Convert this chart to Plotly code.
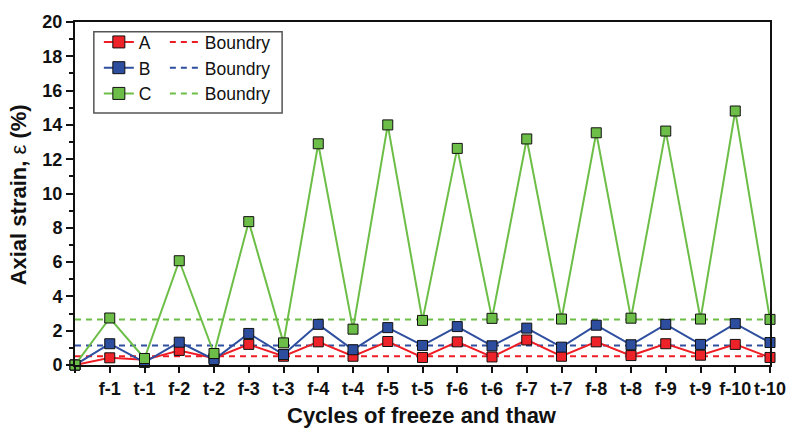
import plotly.graph_objects as go

# Freeze–thaw cycle stages (index 0 is the initial state)
cycles = ["0", "f-1", "t-1", "f-2", "t-2", "f-3", "t-3", "f-4", "t-4", "f-5", "t-5",
          "f-6", "t-6", "f-7", "t-7", "f-8", "t-8", "f-9", "t-9", "f-10", "t-10"]
tick_labels = [""] + cycles[1:]

# Axial strain (%) for the three specimens
strain_a = [0.0, 0.42, 0.30, 0.85, 0.40, 1.20, 0.51, 1.35, 0.51, 1.37, 0.44,
            1.35, 0.47, 1.46, 0.51, 1.35, 0.55, 1.24, 0.57, 1.20, 0.44]
strain_b = [0.0, 1.24, 0.15, 1.33, 0.32, 1.84, 0.61, 2.37, 0.89, 2.18, 1.14,
            2.24, 1.12, 2.15, 1.04, 2.32, 1.18, 2.37, 1.20, 2.41, 1.31]
strain_c = [0.0, 2.74, 0.38, 6.08, 0.67, 8.36, 1.29, 12.90, 2.09, 14.00, 2.60,
            12.63, 2.72, 13.18, 2.68, 13.54, 2.73, 13.64, 2.68, 14.81, 2.66]

# Boundary strain for each specimen
boundary_a = 0.51
boundary_b = 1.14
boundary_c = 2.66

names = ["A", "B", "C"]
series = [strain_a, strain_b, strain_c]
boundaries = [boundary_a, boundary_b, boundary_c]
line_colors = ["#EE1D25", "#2E4F9F", "#6CBE47"]
fill_colors = ["#EE2229", "#2D4E9E", "#6DBE48"]

FONT = "Liberation Sans, Arial, sans-serif"

fig = go.Figure()

# dashed boundary lines (behind the data)
for name, b, col in zip(names, boundaries, line_colors):
    fig.add_trace(go.Scatter(
        x=[cycles[0], cycles[-1]], y=[b, b], mode="lines",
        line=dict(color=col, width=2, dash="6px,5px"),
        showlegend=False, hoverinfo="skip", cliponaxis=False))

# strain series
for name, ys, col, fc in zip(names, series, line_colors, fill_colors):
    fig.add_trace(go.Scatter(
        x=cycles, y=ys, mode="lines+markers", name=name,
        line=dict(color=col, width=2),
        marker=dict(symbol="square", size=10, color=fc,
                    line=dict(color="#111111", width=1)),
        showlegend=False, cliponaxis=False))

# legend entries: series on the left column, boundaries on the right column
for name, col, fc in zip(names, line_colors, fill_colors):
    fig.add_trace(go.Scatter(
        x=[None], y=[None], mode="lines+markers", name=name,
        line=dict(color=col, width=2),
        marker=dict(symbol="square", size=12, color=fc,
                    line=dict(color="#111111", width=1)),
        legend="legend"))
for name, col in zip(names, line_colors):
    fig.add_trace(go.Scatter(
        x=[None], y=[None], mode="lines", name="Boundry",
        line=dict(color=col, width=2, dash="6px,5px"),
        legend="legend2"))

legend_common = dict(
    bgcolor="rgba(0,0,0,0)", borderwidth=0,
    font=dict(family=FONT, size=17.5, color="#111111"),
    yanchor="top", xanchor="left", itemwidth=30)

fig.update_layout(
    width=798, height=433,
    margin=dict(l=75, r=22, t=14, b=68),
    paper_bgcolor="white", plot_bgcolor="white",
    legend=dict(x=0.0343, y=0.994, **legend_common),
    legend2=dict(x=0.1293, y=0.994, **legend_common),
    xaxis=dict(
        type="category", categoryorder="array", categoryarray=cycles,
        range=[0, 20],
        tickmode="array", tickvals=cycles, ticktext=tick_labels,
        showgrid=False, zeroline=False,
        showline=True, linecolor="#111111", linewidth=2, mirror=True,
        ticks="outside", ticklen=6, tickwidth=2, tickcolor="#111111",
        tickfont=dict(family=FONT, size=18, color="#111111", weight="bold"),
    ),
    yaxis=dict(
        range=[0, 20], tickmode="linear", tick0=0, dtick=2,
        showgrid=False, zeroline=False,
        showline=True, linecolor="#111111", linewidth=2, mirror=True,
        ticks="outside", ticklen=7, tickwidth=2, tickcolor="#111111",
        minor=dict(dtick=1, ticks="outside", ticklen=4, tickwidth=2,
                   tickcolor="#111111", showgrid=False),
        tickfont=dict(family=FONT, size=18, color="#111111", weight="bold"),
    ),
    shapes=[dict(type="rect", xref="paper", yref="paper",
                 x0=0.0271, x1=0.298, y0=0.735, y1=0.9715,
                 line=dict(color="#555555", width=1.5),
                 fillcolor="rgba(0,0,0,0)")],
    annotations=[
        dict(text="<b>Axial strain, </b>ε<b> (%)</b>", textangle=-90,
             xref="paper", yref="paper", x=-0.0813, y=0.496,
             xanchor="center", yanchor="middle", showarrow=False,
             font=dict(family=FONT, size=22, color="#111111")),
        dict(text="<b>Cycles of freeze and thaw</b>",
             xref="paper", yref="paper", x=0.499, y=-0.148,
             xanchor="center", yanchor="middle", showarrow=False,
             font=dict(family=FONT, size=22, color="#111111")),
    ],
)

fig.write_html("out.html")
